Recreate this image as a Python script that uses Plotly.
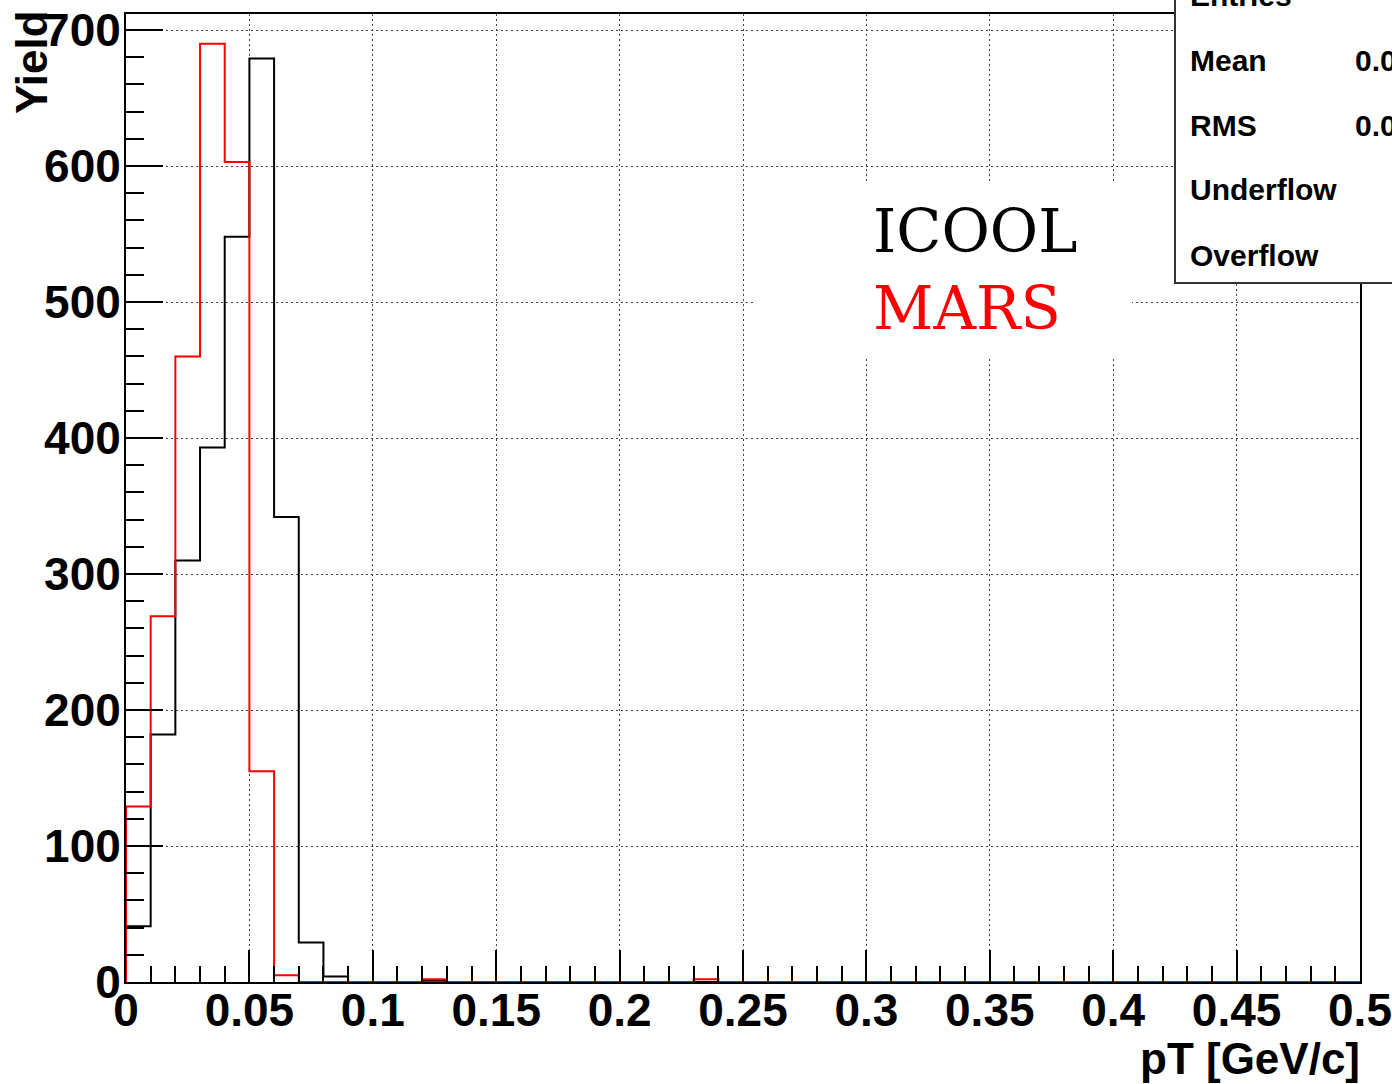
import numpy as np
import plotly.graph_objects as go

# ---- data ----
bin_width = 0.01
bin_low_edges = np.round(np.arange(0.0, 0.5, bin_width), 2)  # 50 bins, 0 .. 0.5

icool_yield = [41, 182, 310, 393, 548, 679, 342, 29, 4, 0,
               0, 0, 1, 0, 0, 0, 0, 0, 0, 0,
               0, 0, 0, 0, 0, 0, 0, 0, 0, 0,
               0, 0, 0, 0, 0, 0, 0, 0, 0, 0,
               0, 0, 0, 0, 0, 0, 0, 0, 0, 0]
mars_yield = [129, 269, 460, 690, 603, 155, 5, 0, 0, 0,
              0, 0, 2, 0, 0, 0, 0, 0, 0, 0,
              0, 0, 0, 2, 0, 0, 0, 0, 0, 0,
              0, 0, 0, 0, 0, 0, 0, 0, 0, 0,
              0, 0, 0, 0, 0, 0, 0, 0, 0, 0]

x_ticks = [0, 0.05, 0.1, 0.15, 0.2, 0.25, 0.3, 0.35, 0.4, 0.45, 0.5]
x_tick_labels = ["0", "0.05", "0.1", "0.15", "0.2", "0.25", "0.3", "0.35", "0.4", "0.45", "0.5"]
y_ticks = [0, 100, 200, 300, 400, 500, 600, 700]
y_tick_labels = ["0", "100", "200", "300", "400", "500", "600", "700"]

stat_labels = ["Entries", "Mean", "RMS", "Underflow", "Overflow"]
stat_values = ["", "0.04", "0.016", "", ""]

# ---- geometry (pixels) ----
W, H = 1392, 1084
ML, MR, MT, MB = 126, 32, 14, 102
PW, PH = W - ML - MR, H - MT - MB


def px_x(px):
    return (px - ML) / PW


def px_y(py):
    return (H - MB - py) / PH


def step_xy(values):
    edges = list(bin_low_edges) + [0.5]
    xs = [edges[0]] + edges
    ys = [0] + list(values) + [values[-1]]
    return xs, ys


fig = go.Figure()
xs, ys = step_xy(icool_yield)
fig.add_trace(go.Scatter(x=xs, y=ys, mode="lines", line=dict(color="black", width=2, shape="hv"),
                         name="ICOOL", showlegend=False))
xs, ys = step_xy(mars_yield)
fig.add_trace(go.Scatter(x=xs, y=ys, mode="lines", line=dict(color="#ff0000", width=2, shape="hv"),
                         name="MARS", showlegend=False))

tick_font = dict(family="Liberation Sans, Arial, sans-serif", size=46, color="black", weight="bold")
title_font = dict(family="Liberation Sans, Arial, sans-serif", size=44, color="black", weight="bold")

fig.update_xaxes(
    range=[0, 0.5], tickmode="array", tickvals=x_ticks, ticktext=x_tick_labels,
    ticks="inside", ticklen=32, tickwidth=1.5, tickcolor="black",
    showline=True, linecolor="black", linewidth=2, mirror=True,
    showgrid=True, gridcolor="#444", gridwidth=1, griddash="2px,3px",
    minor=dict(dtick=0.01, tick0=0, ticks="inside", ticklen=16, tickwidth=1.5,
               tickcolor="black", showgrid=False),
    tickfont=tick_font, zeroline=False, automargin=False, ticklabelstandoff=-13,
)
fig.update_yaxes(
    range=[0, 711.8], tickmode="array", tickvals=y_ticks, ticktext=y_tick_labels,
    ticks="inside", ticklen=37, tickwidth=1.5, tickcolor="black",
    showline=True, linecolor="black", linewidth=2, mirror=True,
    showgrid=True, gridcolor="#444", gridwidth=1, griddash="2px,3px",
    minor=dict(dtick=20, tick0=0, ticks="inside", ticklen=18, tickwidth=1.5,
               tickcolor="black", showgrid=False),
    tickfont=tick_font, zeroline=False, automargin=False, ticklabelstandoff=-6,
)

shapes = [
    # legend background (white, no border)
    dict(type="rect", xref="paper", yref="paper", x0=px_x(753), x1=px_x(1132),
         y0=px_y(358), y1=px_y(182), fillcolor="white", line=dict(width=0), layer="above"),
    # stat box
    dict(type="rect", xref="paper", yref="paper", x0=px_x(1175), x1=px_x(1420),
         y0=px_y(283), y1=px_y(-20), fillcolor="white", line=dict(color="#333", width=2), layer="above"),
]

annotations = [
    dict(text="ICOOL", x=px_x(871), y=px_y(232), xref="paper", yref="paper", xanchor="left",
         yanchor="middle", showarrow=False,
         font=dict(family="DejaVu Serif", size=59, color="black")),
    dict(text="MARS", x=px_x(871), y=px_y(308), xref="paper", yref="paper", xanchor="left",
         yanchor="middle", showarrow=False,
         font=dict(family="DejaVu Serif", size=59, color="#ff0000")),
    dict(text="pT [GeV/c]", x=px_x(1362), y=px_y(1058), xref="paper", yref="paper", xanchor="right",
         yanchor="middle", showarrow=False, font=title_font),
    dict(text="Yield", x=px_x(32), y=px_y(8), xref="paper", yref="paper", xanchor="center",
         yanchor="top", textangle=-90, showarrow=False, font=title_font),
]

stat_rows_py = [-4, 60, 126, 190, 255]
stat_font = dict(family="Liberation Sans, Arial, sans-serif", size=30, color="black", weight="bold")
for lab, val, py in zip(stat_labels, stat_values, stat_rows_py):
    annotations.append(dict(text=lab, x=px_x(1188), y=px_y(py), xref="paper", yref="paper",
                            xanchor="left", yanchor="middle", showarrow=False, font=stat_font))
    if val:
        annotations.append(dict(text=val, x=px_x(1353), y=px_y(py), xref="paper", yref="paper",
                                xanchor="left", yanchor="middle", showarrow=False, font=stat_font))

fig.update_layout(
    width=W, height=H, margin=dict(l=ML, r=MR, t=MT, b=MB, autoexpand=False),
    paper_bgcolor="white", plot_bgcolor="white",
    shapes=shapes, annotations=annotations, showlegend=False,
)

fig.write_html(
    "out.html",
    config={"displayModeBar": False},
    post_script="document.body.style.margin='0';document.body.style.overflow='hidden';",
)
